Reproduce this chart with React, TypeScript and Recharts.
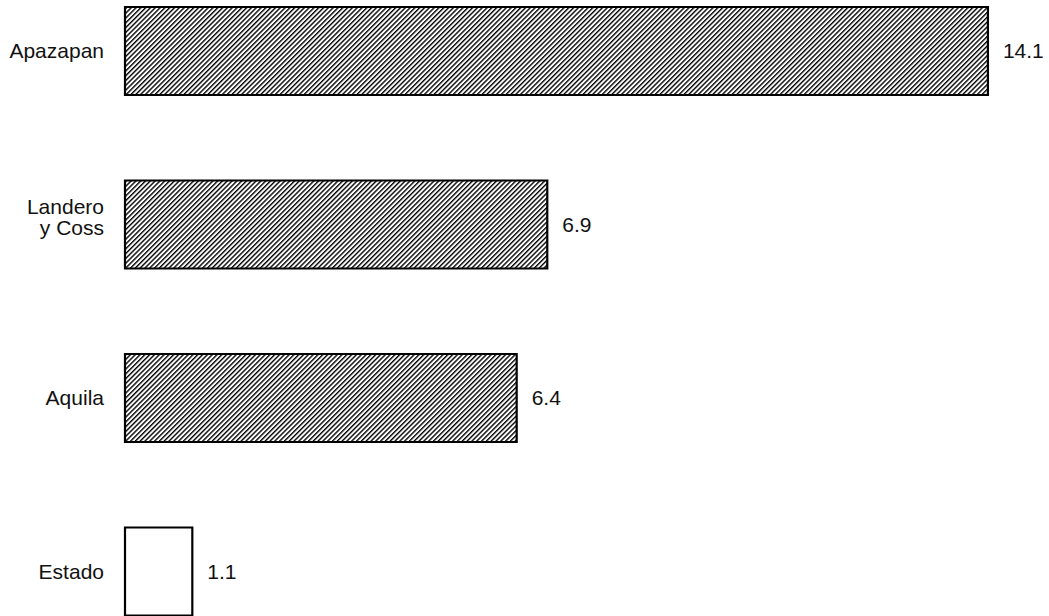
import { BarChart, Bar, XAxis, YAxis, Cell, LabelList } from "recharts";

const categories = ["Apazapan", "Landero y Coss", "Aquila", "Estado"];
const values = [14.1, 6.9, 6.4, 1.1];
const hatched = [true, true, true, false];

const data = categories.map((name, i) => ({ name, value: values[i] }));

const FONT = "Arial, 'Liberation Sans', sans-serif";

// long names go on two lines, split at the first space
function splitLabel(label: string): string[] {
    if (label.length <= 10) return [label];
    const cut = label.indexOf(" ");
    return [label.slice(0, cut), label.slice(cut + 1)];
}

function CategoryTick(props: any) {
    const { x, y, payload } = props;
    const lines = splitLabel(String(payload.value));
    const start = lines.length === 1 ? 7.5 : -10;
    return (
        <text x={x} y={y} textAnchor="end" fontSize={21} fontFamily={FONT} fill="#111">
            {lines.map((line, i) => (
                <tspan key={i} x={x} y={y + start + i * 21}>{line}</tspan>
            ))}
        </text>
    );
}

export default function App() {
    return (
        <div style={{ position: "absolute", left: 0, top: 0, width: 1049, height: 616, overflow: "hidden", background: "#fff" }}>
            <div style={{ position: "relative", top: -40 }}>
                <BarChart width={1049} height={700} data={data} layout="vertical"
                    margin={{ top: 4, right: 6, bottom: 2, left: 0 }}>
                    <defs>
                        <pattern id="hatch" patternUnits="userSpaceOnUse" width={3.4} height={3.4} patternTransform="rotate(45)">
                            <rect x={0} y={0} width={3.4} height={3.4} fill="#fff" />
                            <line x1={0.7} y1={0} x2={0.7} y2={3.4} stroke="#000" strokeWidth={1.4} />
                        </pattern>
                    </defs>
                    <XAxis type="number" domain={[0, 15]} hide />
                    <YAxis type="category" dataKey="name" width={125} axisLine={false} tickLine={false}
                        tickSize={0} tickMargin={21} interval={0} tick={<CategoryTick />} />
                    <Bar dataKey="value" barSize={88} stroke="#000" strokeWidth={2.2} isAnimationActive={false}>
                        {data.map((item, index) => (
                            <Cell key={`cell-${index}`} fill={hatched[index] ? "url(#hatch)" : "#fff"} />
                        ))}
                        <LabelList dataKey="value" position="right" offset={15} fontSize={21}
                            fontFamily={FONT} fill="#111" />
                    </Bar>
                </BarChart>
            </div>
        </div>
    );
}
